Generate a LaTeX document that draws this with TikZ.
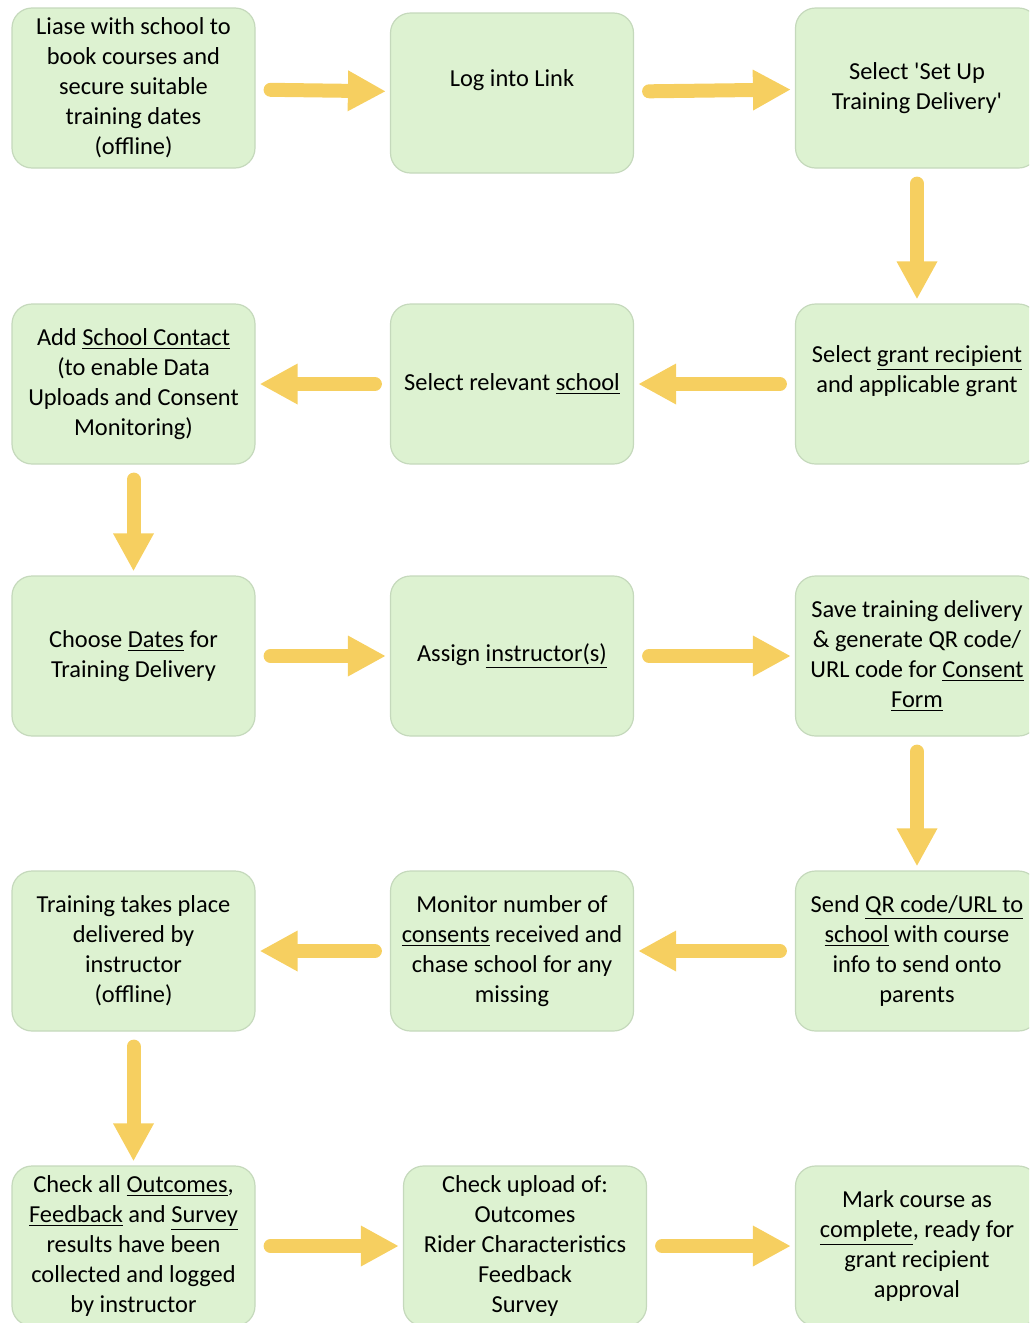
\documentclass[tikz,border=0pt]{standalone}
\usepackage{fontspec}
\setmainfont{Carlito}
\usetikzlibrary{arrows.meta}
\definecolor{boxgreen}{HTML}{DDF2D1}
\definecolor{boxline}{HTML}{C5D9BC}
\definecolor{arrowyellow}{HTML}{F6CF60}
\tikzset{
	stage/.style={draw=boxline, line width=0.6pt, fill=boxgreen, rounded corners=10pt,
		minimum width=121.5pt, minimum height=80pt, align=center, inner sep=2pt,
		font=\fontsize{12.2}{15}\selectfont},
	flow/.style={draw=arrowyellow, line width=7pt, line cap=round,
		-{Triangle[width=19pt,length=19pt]}, shorten <=7.5pt, shorten >=2pt}
}

\begin{document}
\begin{tikzpicture}[x=0.5pt,y=-0.5pt]
\useasboundingbox (0,0) rectangle (1029,1323);
\clip (0,0) rectangle (1029,1323);
	% row 1
	\node[stage] (A) at (133.5,88) {Liase with school to\\book courses and\\secure suitable\\training dates\\(offline)};
	\node[stage] (B) at (512,93) {Log into Link\\ \mbox{}};
	\node[stage] (C) at (917,88) {Select \textquotesingle Set Up\\Training Delivery\textquotesingle};
	% row 2
	\node[stage] (D) at (917,384) {Select \underline{grant recipient}\\and applicable grant\\ \mbox{}};
	\node[stage] (E) at (512,384) {Select relevant \underline{school}};
	\node[stage] (F) at (133.5,384) {Add \underline{School Contact}\\(to enable Data\\Uploads and Consent\\Monitoring)};
	% row 3
	\node[stage] (G) at (133.5,656) {Choose \underline{Dates} for\\Training Delivery};
	\node[stage] (H) at (512,656) {Assign \underline{instructor(s)}};
	\node[stage] (I) at (917,656) {Save training delivery\\\& generate QR code/\\URL code for \underline{Consent}\\\underline{Form}};
	% row 4
	\node[stage] (J) at (917,951) {Send \underline{QR code/URL to}\\\underline{school} with course\\info to send onto\\parents};
	\node[stage] (K) at (512,951) {Monitor number of\\\underline{consents} received and\\chase school for any\\missing};
	\node[stage] (L) at (133.5,951) {Training takes place\\delivered by\\instructor\\(offline)};
	% row 5
	\node[stage] (M) at (133.5,1246) {Check all \underline{Outcomes},\\\underline{Feedback} and \underline{Survey}\\results have been\\collected and logged\\by instructor};
	\node[stage] (N) at (525,1246) {Check upload of:\\Outcomes\\Rider Characteristics\\Feedback\\Survey};
	\node[stage] (O) at (917,1246) {Mark course as\\\underline{complete}, ready for\\grant recipient\\approval};

	\draw[flow] (A) -- (B);
	\draw[flow] (B) -- (C);
	\draw[flow] (C) -- (D);
	\draw[flow] (D) -- (E);
	\draw[flow] (E) -- (F);
	\draw[flow] (F) -- (G);
	\draw[flow] (G) -- (H);
	\draw[flow] (H) -- (I);
	\draw[flow] (I) -- (J);
	\draw[flow] (J) -- (K);
	\draw[flow] (K) -- (L);
	\draw[flow] (L) -- (M);
	\draw[flow] (M) -- (N);
	\draw[flow] (N) -- (O);
\end{tikzpicture}
\end{document}
